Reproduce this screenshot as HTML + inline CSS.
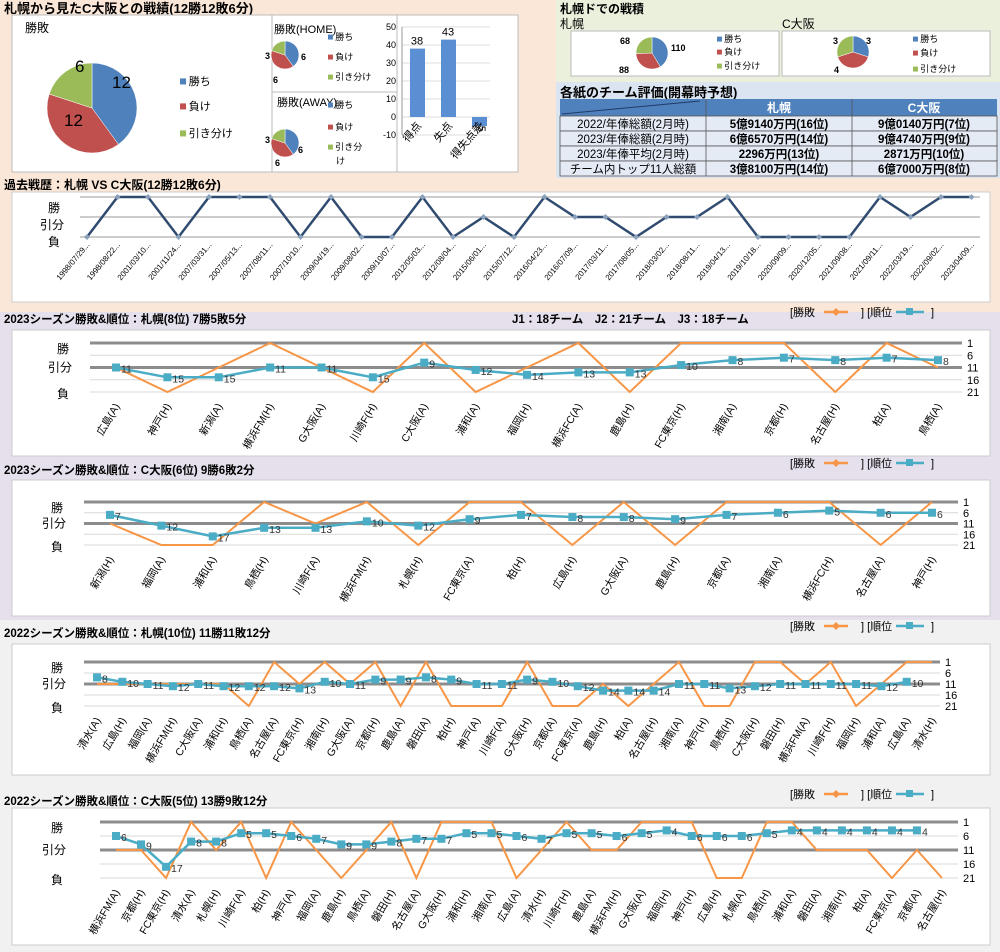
<!DOCTYPE html>
<html><head><meta charset="utf-8">
<style>
html,body{margin:0;padding:0;width:1000px;height:952px;overflow:hidden;background:#fff;}
svg{display:block;font-family:"Liberation Sans","Noto Sans CJK JP",sans-serif;}
</style></head>
<body>
<svg id="s" width="1000" height="952" xmlns="http://www.w3.org/2000/svg">
<rect x="0" y="0" width="556" height="178" fill="#fbe7d7"/>
<rect x="556" y="0" width="444" height="82" fill="#eaf0dc"/>
<rect x="556" y="82" width="444" height="96" fill="#dbe5f1"/>
<rect x="0" y="178" width="1000" height="134" fill="#fbe7d7"/>
<rect x="0" y="312" width="1000" height="308" fill="#e5e0ec"/>
<rect x="0" y="620" width="1000" height="332" fill="#f1f1f1"/>

<text x="4" y="13" font-size="13" font-weight="bold">札幌から見たC大阪との戦績(12勝12敗6分)</text>
<rect x="12" y="15" width="260" height="157" fill="#fff" stroke="#bbb"/>
<text x="25" y="32" font-size="12">勝敗</text>
<rect x="272" y="15" width="125" height="77" fill="#fff" stroke="#bbb"/>
<rect x="272" y="92" width="125" height="80" fill="#fff" stroke="#bbb"/>
<rect x="397" y="15" width="121" height="157" fill="#fff" stroke="#bbb"/>
<text x="274" y="33" font-size="11">勝敗(HOME)</text>
<text x="277" y="106" font-size="11">勝敗(AWAY)</text>

<text x="4" y="189" font-size="12" font-weight="bold">過去戦歴：札幌 VS C大阪(12勝12敗6分)</text>
<rect x="12" y="192" width="978" height="110" fill="#fff" stroke="#ccc"/>
<g id="dyn"></g>
</svg>
<script>
var S=document.getElementById('dyn');var NS='http://www.w3.org/2000/svg';
function el(t,a,txt){var e=document.createElementNS(NS,t);for(var k in a)e.setAttribute(k,a[k]);if(txt!==undefined)e.textContent=txt;S.appendChild(e);return e;}
var B='#4f81bd',R='#c0504d',G='#9bbb59',OR='#f79646',TE='#4bacc6';
function pie(cx,cy,r,vals){var cols=[B,R,G],tot=vals[0]+vals[1]+vals[2],a=-Math.PI/2;
 for(var i=0;i<3;i++){var b=a+vals[i]/tot*2*Math.PI;var x1=cx+r*Math.cos(a),y1=cy+r*Math.sin(a),x2=cx+r*Math.cos(b),y2=cy+r*Math.sin(b);
 el('path',{d:'M'+cx+','+cy+'L'+x1+','+y1+'A'+r+','+r+' 0 '+((b-a)>Math.PI?1:0)+' 1 '+x2+','+y2+'Z',fill:cols[i],stroke:'#fff','stroke-width':0.5});a=b;}}
function legend(x,ys,fs,labels){var cols=[B,R,G];for(var i=0;i<3;i++){el('rect',{x:x,y:ys[i]-fs*0.6,width:fs*0.55,height:fs*0.55,fill:cols[i]});el('text',{x:x+fs*0.8,y:ys[i],'font-size':fs},labels[i]);}}
var L3=['勝ち','負け','引き分け'];
pie(92,108,45,[12,12,6]);
el('text',{x:112,y:88,'font-size':17},'12');el('text',{x:64,y:126,'font-size':17},'12');el('text',{x:75,y:72,'font-size':17},'6');
legend(180,[85,110,137],11,L3);
pie(285,55,14,[6,6,3]);el('text',{x:301,y:60,'font-size':9,'font-weight':'bold'},'6');el('text',{x:273,y:83,'font-size':9,'font-weight':'bold'},'6');el('text',{x:265,y:59,'font-size':9,'font-weight':'bold'},'3');
legend(328,[40,60,80],9,L3);
pie(285,143,14,[6,6,3]);el('text',{x:298,y:153,'font-size':9,'font-weight':'bold'},'6');el('text',{x:275,y:166,'font-size':9,'font-weight':'bold'},'6');el('text',{x:265,y:143,'font-size':9,'font-weight':'bold'},'3');
legend(328,[108,130,150],9,['勝ち','負け','引き分']);el('text',{x:336,y:164,'font-size':9},'け');
// bar
var by0=117,sc=1.8;[50,40,30,20,10,0,-10].forEach(function(v){var y=by0-v*sc;el('line',{x1:402,x2:490,y1:y,y2:y,stroke:'#ddd'});el('text',{x:396,y:y+3,'font-size':9,'text-anchor':'end'},v);});
el('line',{x1:402,x2:402,y1:by0-50*sc,y2:by0+10*sc,stroke:'#999'});
[[38,410],[43,441],[-5,472]].forEach(function(d,i){var h=d[0]*sc;el('rect',{x:d[1],y:d[0]>0?by0-h:by0,width:15,height:Math.abs(h),fill:'#5b8fd4'});
 el('text',{x:d[1]+7,y:d[0]>0?by0-h-4:by0-h+8,'font-size':11,'text-anchor':'middle',transform:d[0]<0?'rotate(90 '+(d[1]+10)+' '+(by0-h+4)+')':''},d[0]>0?d[0]:'-5');});
['得点','失点','得失点差'].forEach(function(t,i){var x=422+i*31;el('text',{x:x,y:126,'font-size':11,'text-anchor':'end',transform:'rotate(-50 '+x+' 126)'},t);});
// sapporo dome
el('text',{x:560,y:13,'font-size':12,'font-weight':'bold'},'札幌ドでの戦積');
el('text',{x:560,y:28,'font-size':12},'札幌');el('text',{x:782,y:28,'font-size':12},'C大阪');
el('rect',{x:571,y:31,width:208,height:45,fill:'#fff',stroke:'#bbb'});el('rect',{x:782,y:31,width:208,height:45,fill:'#fff',stroke:'#bbb'});
pie(652,53,16,[110,88,68]);el('text',{x:620,y:44,'font-size':9,'font-weight':'bold'},'68');el('text',{x:671,y:51,'font-size':9,'font-weight':'bold'},'110');el('text',{x:619,y:73,'font-size':9,'font-weight':'bold'},'88');
legend(717,[42,55,69],9,L3);
pie(853,52,16,[3,4,3]);el('text',{x:833,y:44,'font-size':9,'font-weight':'bold'},'3');el('text',{x:866,y:44,'font-size':9,'font-weight':'bold'},'3');el('text',{x:834,y:73,'font-size':9,'font-weight':'bold'},'4');
legend(913,[42,56,72],9,L3);
// table
el('text',{x:560,y:97,'font-size':13,'font-weight':'bold'},'各紙のチーム評価(開幕時予想)');
el('rect',{x:560,y:99,width:437,height:17,fill:'#4f81bd'});el('line',{x1:562,y1:114,x2:700,y2:101,stroke:'#1f3b66'});
el('text',{x:779,y:112,'font-size':12,'font-weight':'bold',fill:'#fff','text-anchor':'middle'},'札幌');
el('text',{x:924,y:112,'font-size':12,'font-weight':'bold',fill:'#fff','text-anchor':'middle'},'C大阪');
var rows=[['2022/年俸総額(2月時)','5億9140万円(16位)','9億0140万円(7位)'],['2023/年俸総額(2月時)','6億6570万円(14位)','9億4740万円(9位)'],['2023/年俸平均(2月時)','2296万円(13位)','2871万円(10位)'],['チーム内トップ11人総額','3億8100万円(14位)','6億7000万円(8位)']];
rows.forEach(function(r,i){var y=116+i*15;el('rect',{x:560,y:y,width:437,height:15,fill:'#e4ebf5',stroke:'#555','stroke-width':0.8});
 el('text',{x:633,y:y+12,'font-size':11.5,'text-anchor':'middle'},r[0]);el('text',{x:779,y:y+12,'font-size':11.5,'font-weight':'bold','text-anchor':'middle'},r[1]);el('text',{x:924,y:y+12,'font-size':11.5,'font-weight':'bold','text-anchor':'middle'},r[2]);});
[706,852].forEach(function(x){el('line',{x1:x,x2:x,y1:99,y2:176,stroke:'#555','stroke-width':0.8});});
// past history
var ph='LWWLWWWLWLLWLDLWDDLDDWLLLLWDWW',pd=['1998/07/29','1998/08/22','2001/03/10','2001/11/24','2007/03/31','2007/05/13','2007/08/11','2007/10/10','2009/04/19','2009/08/02','2009/10/07','2012/05/03','2012/08/04','2015/06/01','2015/07/12','2016/04/23','2016/07/09','2017/03/11','2017/08/05','2018/03/02','2018/08/11','2019/04/13','2019/10/18','2020/09/09','2020/12/05','2021/09/08','2021/09/11','2022/03/19','2022/09/02','2023/04/09'];
[197,217,237].forEach(function(y){el('line',{x1:80,x2:980,y1:y,y2:y,stroke:'#ccc','stroke-width':2});});
el('text',{x:48,y:212,'font-size':12},'勝');el('text',{x:40,y:229,'font-size':12},'引分');el('text',{x:48,y:246,'font-size':12},'負');
var pts=[];for(var i=0;i<30;i++){var x=87+i*30.5,y={W:197,D:217,L:237}[ph[i]];pts.push(x+','+y);
 el('text',{x:x+3,y:245,'font-size':8,'text-anchor':'end',transform:'rotate(-50 '+(x+3)+' 245)'},pd[i]+'...');}
el('polyline',{points:pts.join(' '),fill:'none',stroke:'#2f4b70','stroke-width':2.5});
pts.forEach(function(p){var q=p.split(',');el('path',{d:'M'+q[0]+','+(q[1]-3)+'l3,3l-3,3l-3,-3z',fill:'#8aa0bb'});});
// seasons
function season(c){
 el('text',{x:4,y:c.ty,'font-size':11.5,'font-weight':'bold'},c.title);
 el('text',{x:790,y:c.ty-7,'font-size':11},'[勝敗');el('text',{x:861,y:c.ty-7,'font-size':11},'] [順位');el('text',{x:931,y:c.ty-7,'font-size':11},']');
 el('line',{x1:824,x2:848,y1:c.ty-11,y2:c.ty-11,stroke:OR,'stroke-width':2.5});el('path',{d:'M836,'+(c.ty-15)+'l4,4l-4,4l-4,-4z',fill:OR});
 el('line',{x1:896,x2:924,y1:c.ty-11,y2:c.ty-11,stroke:TE,'stroke-width':2.5});el('rect',{x:906,y:c.ty-15,width:7,height:7,fill:TE});
 el('rect',{x:12,y:c.by,width:978,height:c.bh,fill:'#fff',stroke:'#ccc'});
 var yt=c.yt,yb=c.yb,f=function(r){return yt+(r-1)/20*(yb-yt);};
 [1,6,11,16,21].forEach(function(r){var y=f(r),th=(r==1||r==11);el('line',{x1:c.px0,x2:c.px1,y1:y,y2:y,stroke:th?'#8c8c8c':'#d8d8d8','stroke-width':th?3:1});
  el('text',{x:c.px1+5,y:y+4,'font-size':11},r);});
 el('text',{x:c.lx+5,y:yt+10,'font-size':12},'勝');el('text',{x:c.lx-4,y:f(11)+4,'font-size':12},'引分');el('text',{x:c.lx+5,y:yb+6,'font-size':12},'負');
 var n=c.labels.length,st=(c.x1-c.x0)/(n-1),op=[],tp=[];
 for(var i=0;i<n;i++){var x=c.x0+i*st;op.push(x+','+f({W:1,D:11,L:21}[c.res[i]]));
  if(i<c.ranks.length)tp.push([x,f(c.ranks[i]),c.ranks[i]]);
  el('text',{x:x+4,y:yb+14,'font-size':10.5,'text-anchor':'end',transform:'rotate(-60 '+(x+4)+' '+(yb+14)+')'},c.labels[i]);}
 el('polyline',{points:op.join(' '),fill:'none',stroke:OR,'stroke-width':2});
 el('polyline',{points:tp.map(function(p){return p[0]+','+p[1];}).join(' '),fill:'none',stroke:TE,'stroke-width':2.5});
 tp.forEach(function(p){el('rect',{x:p[0]-4,y:p[1]-4,width:8,height:8,fill:TE});el('text',{x:p[0]+5,y:p[1]+5,'font-size':10.5,fill:'#333'},p[2]);});
}
season({title:'2023シーズン勝敗&順位：札幌(8位) 7勝5敗5分',ty:323,by:330,bh:126,yt:343,yb:392,px0:90,px1:962,lx:52,x0:116,x1:938,
 labels:['広島(A)','神戸(H)','新潟(A)','横浜FM(H)','G大阪(A)','川崎F(H)','C大阪(A)','浦和(A)','福岡(H)','横浜FC(A)','鹿島(H)','FC東京(H)','湘南(A)','京都(H)','名古屋(H)','柏(A)','鳥栖(A)'],
 res:'DLDWDLWLDWLWWWLWD',ranks:[11,15,15,11,11,15,9,12,14,13,13,10,8,7,8,7,8]});
el('text',{x:512,y:323,'font-size':11.5,'font-weight':'bold'},'J1：18チーム　J2：21チーム　J3：18チーム');
season({title:'2023シーズン勝敗&順位：C大阪(6位) 9勝6敗2分',ty:474,by:480,bh:136,yt:502,yb:545,px0:84,px1:958,lx:46,x0:110,x1:932,
 labels:['新潟(H)','福岡(A)','浦和(A)','鳥栖(H)','川崎F(A)','横浜FM(H)','札幌(H)','FC東京(A)','柏(H)','広島(H)','G大阪(A)','鹿島(H)','京都(A)','湘南(A)','横浜FC(H)','名古屋(A)','神戸(H)'],
 res:'DLLWDWLWWLWLWWWLW',ranks:[7,12,17,13,13,10,12,9,7,8,8,9,7,6,5,6,6]});
season({title:'2022シーズン勝敗&順位：札幌(10位) 11勝11敗12分',ty:637,by:644,bh:131,yt:662,yb:706,px0:84,px1:940,lx:46,x0:97,x1:932,
 labels:['清水(A)','広島(H)','福岡(A)','横浜FM(H)','C大阪(A)','浦和(H)','鳥栖(A)','名古屋(A)','FC東京(H)','湘南(H)','G大阪(A)','京都(H)','鹿島(A)','磐田(A)','柏(H)','神戸(A)','川崎F(A)','G大阪(H)','京都(A)','FC東京(A)','鹿島(H)','柏(A)','名古屋(H)','湘南(A)','神戸(H)','鳥栖(H)','C大阪(H)','磐田(H)','横浜FM(A)','川崎F(H)','福岡(H)','浦和(A)','広島(A)','清水(H)'],
 res:'DDDDDDLWDWDWLWLLLWLLDLDWLLWWDWLDWW',ranks:[8,10,11,12,11,12,12,12,13,10,11,9,9,8,9,11,11,9,10,12,14,14,14,11,11,13,12,11,11,11,11,12,10]});
season({title:'2022シーズン勝敗&順位：C大阪(5位) 13勝9敗12分',ty:805,by:808,bh:137,yt:822,yb:878,px0:100,px1:958,lx:46,x0:116,x1:942,
 labels:['横浜FM(A)','京都(H)','FC東京(H)','清水(A)','札幌(H)','川崎F(A)','柏(H)','神戸(A)','福岡(A)','鹿島(H)','鳥栖(A)','磐田(H)','名古屋(A)','G大阪(H)','浦和(H)','湘南(A)','広島(A)','清水(H)','川崎F(H)','鹿島(A)','横浜FM(H)','G大阪(A)','福岡(H)','神戸(H)','広島(H)','札幌(A)','鳥栖(H)','浦和(A)','磐田(A)','湘南(H)','柏(A)','FC東京(A)','京都(A)','名古屋(H)'],
 res:'DDLWDWLWDLDWLWWWLDWDDWWWLLWWDDDLDL',ranks:[6,9,17,8,8,5,5,6,7,9,9,8,7,7,5,5,6,7,5,5,6,5,4,6,6,6,5,4,4,4,4,4,4]});
</script>
</body></html>
